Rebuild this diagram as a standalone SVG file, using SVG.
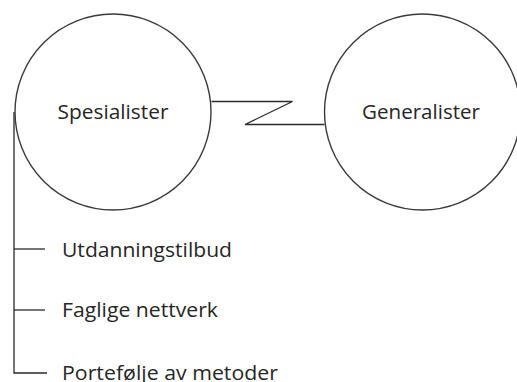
<svg xmlns="http://www.w3.org/2000/svg" width="517" height="382" viewBox="0 0 517 382">
<style>
.node{fill:#fff;stroke:#3a3a3a;stroke-width:1.4}
.ln{fill:none;stroke:#2a2a2a;stroke-width:1.3}
text{font-family:"Open Sans",Lato,"Liberation Sans",sans-serif;font-size:20px;fill:#262626}
</style>
<rect width="517" height="382" fill="#fff"/>
<g id="connectors">
<polyline class="ln" points="211.5,101.5 292.5,101.5 245,124.5 324.5,124.5"/>
<polyline class="ln" points="14,112 14,373 47,373"/>
<line class="ln" x1="14" y1="249" x2="45" y2="249"/>
<line class="ln" x1="14" y1="310" x2="45" y2="310"/>
</g>
<g id="spesialister">
<circle class="node" cx="113" cy="112" r="98"/>
<text x="57.5" y="118.5" textLength="111" lengthAdjust="spacingAndGlyphs">Spesialister</text>
</g>
<g id="generalister">
<circle class="node" cx="422.5" cy="112" r="98"/>
<text x="362" y="118.5" textLength="118" lengthAdjust="spacingAndGlyphs">Generalister</text>
</g>
<g id="utdanningstilbud">
<text x="62" y="256.5" textLength="170" lengthAdjust="spacingAndGlyphs">Utdanningstilbud</text>
</g>
<g id="faglige-nettverk">
<text x="62" y="317" textLength="156" lengthAdjust="spacingAndGlyphs">Faglige nettverk</text>
</g>
<g id="portefolje">
<text x="62" y="380" textLength="216" lengthAdjust="spacingAndGlyphs">Portefølje av metoder</text>
</g>
</svg>
